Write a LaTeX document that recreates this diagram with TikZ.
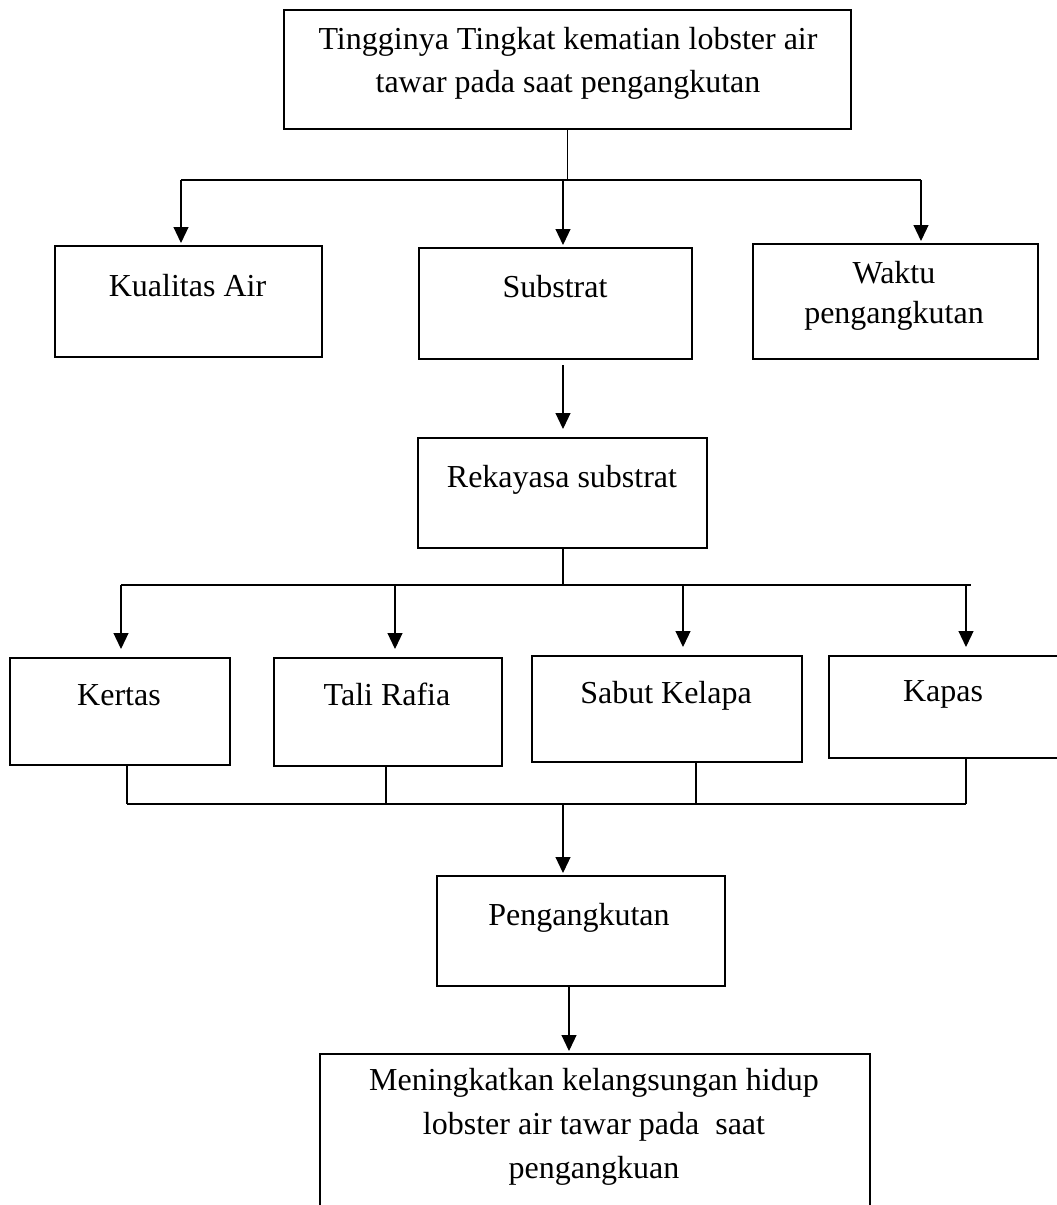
\documentclass[tikz,border=0pt]{standalone}
\usepackage{fontspec}
\setmainfont{Liberation Serif}
\usetikzlibrary{arrows.meta}
\tikzset{
  box/.style={draw, line width=2.2pt, rectangle, inner sep=0pt, anchor=north west},
  txt/.style={font=\fontsize{32}{43}\selectfont, inner sep=0pt, align=center},
  conn/.style={line width=1.2pt},
  arr/.style={conn, -{Triangle[width=15pt,length=16pt]}},
}
\begin{document}
\begin{tikzpicture}[x=1pt,y=-1pt]
\useasboundingbox (0,0) rectangle (1057,1205);
\clip (0,0) rectangle (1057,1205);
% boxes
\node[box, minimum width=567pt, minimum height=119pt] (top) at (283,9) {};
\node[box, minimum width=267pt, minimum height=111pt] (kual) at (54,245) {};
\node[box, minimum width=273pt, minimum height=111pt] (sub) at (418,247) {};
\node[box, minimum width=285pt, minimum height=115pt] (waktu) at (752,243) {};
\node[box, minimum width=289pt, minimum height=110pt] (rek) at (417,437) {};
\node[box, minimum width=220pt, minimum height=107pt] (kertas) at (9,657) {};
\node[box, minimum width=228pt, minimum height=108pt] (tali) at (273,657) {};
\node[box, minimum width=270pt, minimum height=106pt] (sabut) at (531,655) {};
\node[box, minimum width=240pt, minimum height=102pt] (kapas) at (828,655) {};
\node[box, minimum width=288pt, minimum height=110pt] (peng) at (436,875) {};
\node[box, minimum width=550pt, minimum height=170pt] (bot) at (319,1053) {};
% texts
\node[txt, anchor=north] (ttop) at (568,27) {Tingginya Tingkat kematian lobster air\\tawar pada saat pengangkutan};
\node[txt, anchor=base] (tkual) at (187.5,296) {Kualitas Air};
\node[txt, anchor=base] (tsub) at (555,297) {Substrat};
\node[txt, anchor=north, font=\fontsize{32}{40}\selectfont] (twaktu) at (894,261) {Waktu\\pengangkutan};
\node[txt, anchor=base] (trek) at (562,487) {Rekayasa substrat};
\node[txt, anchor=base] (tkertas) at (119,705) {Kertas};
\node[txt, anchor=base] (ttali) at (387,705) {Tali Rafia};
\node[txt, anchor=base] (tsabut) at (666,703) {Sabut Kelapa};
\node[txt, anchor=base] (tkapas) at (943,701) {Kapas};
\node[txt, anchor=base] (tpeng) at (579,925) {Pengangkutan};
\node[txt, anchor=north, font=\fontsize{32}{44}\selectfont] (tbot) at (594,1068) {Meningkatkan kelangsungan hidup\\lobster air tawar pada\ \ saat\\pengangkuan};
% junction coordinates
\coordinate (h1l) at (181,180);
\coordinate (h1m) at (563,180);
\coordinate (h1r) at (921,180);
\coordinate (xa) at (563,400);
\coordinate (h2m) at (563,585);
\coordinate (h2a) at (121,585);
\coordinate (h2b) at (395,585);
\coordinate (h2c) at (683,585);
\coordinate (h2d) at (966,585);
\coordinate (h2r) at (971,585);
\coordinate (h3a) at (127,804);
\coordinate (h3b) at (386,804);
\coordinate (h3c) at (696,804);
\coordinate (h3d) at (966,804);
\coordinate (h3m) at (563,804);
\coordinate (xb) at (569,1000);
% connectors
\draw[conn] (top.south) -- (top.south |- h1l);
\draw[conn] (h1l) -- (h1r);
\draw[arr, shorten >=2pt] (h1l) -- (h1l |- kual.north);
\draw[arr, shorten >=2pt] (h1m) -- (h1m |- sub.north);
\draw[arr, shorten >=2pt] (h1r) -- (h1r |- waktu.north);
\draw[arr, shorten <=5pt, shorten >=8pt] (sub.south -| xa) -- (rek.north -| xa);
\draw[conn] (rek.south -| xa) -- (h2m);
\draw[conn] (h2a) -- (h2r);
\draw[arr, shorten >=8pt] (h2a) -- (h2a |- kertas.north);
\draw[arr, shorten >=8pt] (h2b) -- (h2b |- tali.north);
\draw[arr, shorten >=8pt] (h2c) -- (h2c |- sabut.north);
\draw[arr, shorten >=8pt] (h2d) -- (h2d |- kapas.north);
\draw[conn] (kertas.south -| h3a) -- (h3a);
\draw[conn] (tali.south -| h3b) -- (h3b);
\draw[conn] (sabut.south -| h3c) -- (h3c);
\draw[conn] (kapas.south -| h3d) -- (h3d);
\draw[conn] (h3a) -- (h3d);
\draw[arr, shorten >=2pt] (h3m) -- (h3m |- peng.north);
\draw[arr, shorten >=2pt] (peng.south -| xb) -- (bot.north -| xb);
\end{tikzpicture}
\end{document}
